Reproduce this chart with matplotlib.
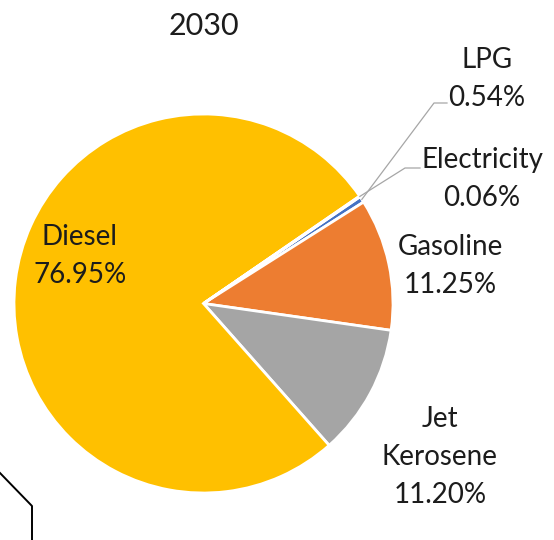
import matplotlib
matplotlib.use('Agg')
import matplotlib.pyplot as plt
from matplotlib.lines import Line2D
import numpy as np

# data
fuels = ['LPG', 'Gasoline', 'Jet\nKerosene', 'Diesel', 'Electricity']
shares = [0.54, 11.25, 11.20, 76.95, 0.06]
colors = ['#4472C4', '#ED7D31', '#A5A5A5', '#FFC000', '#5B9BD5']
title = '2030'

# label centres in pixels (x, y from top)
label_pos = {
    'LPG': (487, 79),
    'Gasoline': (450, 266),
    'Jet\nKerosene': (440, 457),
    'Diesel': (80, 256),
    'Electricity': (482, 179),
}
# leader lines: elbow and end point in pixels
leaders = {
    'LPG': [(434, 103), (447, 103)],
    'Electricity': [(405, 168), (420, 168)],
}

W, H = 554, 540
plt.rcParams['font.family'] = ['Lato', 'DejaVu Sans']
fig = plt.figure(figsize=(W / 100, H / 100), dpi=100)

cx, cy, r = 203.5, 303.5, 189.5
ax = fig.add_axes([(cx - r) / W, 1 - (cy + r) / H, 2 * r / W, 2 * r / H])
wedges, _ = ax.pie(shares, colors=colors, startangle=34.3, counterclock=False,
                   radius=1, wedgeprops=dict(edgecolor='white', linewidth=2))
ax.set_xlim(-1, 1)
ax.set_ylim(-1, 1)
ax.set_aspect('equal')
ax.axis('off')


def px(x, y):
    return (x - cx) / r, (cy - y) / r


for w, name, val in zip(wedges, fuels, shares):
    tx, ty = px(*label_pos[name])
    ax.text(tx, ty, '{}\n{:.2f}%'.format(name, val), ha='center', va='center',
            fontsize=20, color='#1c1c1c', linespacing=1.56, clip_on=False)
    if name in leaders:
        mid = np.deg2rad((w.theta1 + w.theta2) / 2)
        xs = [np.cos(mid)]
        ys = [np.sin(mid)]
        for p in leaders[name]:
            dx, dy = px(*p)
            xs.append(dx)
            ys.append(dy)
        ax.plot(xs, ys, color='#A6A6A6', lw=0.9, clip_on=False)

fig.text(cx / W, 1 - 26 / H, title, ha='center', va='center', fontsize=22,
         color='#1c1c1c')

# bit of a neighbouring chart's border
fig.add_artist(Line2D([0, 32 / W, 32 / W], [1 - 473 / H, 1 - 506 / H, 0],
                      color='black', lw=1.4, transform=fig.transFigure))

fig.savefig('out.png', dpi=100)
